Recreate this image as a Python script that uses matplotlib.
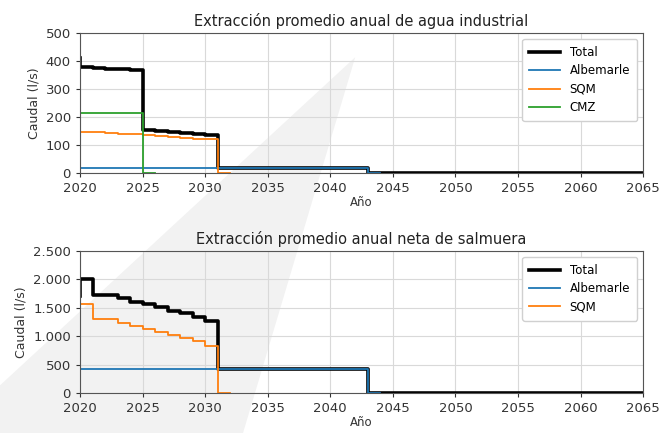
import matplotlib
matplotlib.use("Agg")
import matplotlib.pyplot as plt
from matplotlib.patches import Polygon
from matplotlib.ticker import FuncFormatter

nan = float("nan")

# años del horizonte de evaluación
anios = list(range(2020, 2066))

# --- agua industrial (l/s) ---
agua_albemarle = [17] * 24 + [0] + [nan] * 21                                            # 2020-2043
agua_sqm = [150, 148, 145, 143, 140, 138, 135, 132, 129, 126, 123, 120] + [0] + [nan] * 33  # 2020-2031
agua_cmz = [213] * 6 + [0] + [nan] * 39                                                 # 2020-2025
agua_total = [410, 378, 375, 373, 370, 368, 152, 149, 146, 143, 140, 137] + [17] * 12 + [0] * 22

# --- salmuera neta (l/s) ---
salm_albemarle = [430] * 24 + [0] + [nan] * 21
salm_sqm = [1570, 1570, 1300, 1300, 1240, 1180, 1130, 1080, 1020, 970, 910, 830] + [0] + [nan] * 33
salm_total = [1700, 2000, 1730, 1730, 1670, 1610, 1560, 1510, 1450, 1400, 1340, 1260] + [430] * 12 + [0] * 22

C_ALB = "#1f77b4"
C_SQM = "#ff7f0e"
C_CMZ = "#2ca02c"


def miles(x, pos):
    return f"{int(x):,}".replace(",", ".")


def formato_eje(ax, ymax, ystep, titulo):
    ax.set_facecolor("none")
    ax.set_xlim(2020, 2065)
    ax.set_ylim(0, ymax)
    ax.set_xticks(range(2020, 2066, 5))
    ax.set_yticks(range(0, ymax + 1, ystep))
    ax.yaxis.set_major_formatter(FuncFormatter(miles))
    ax.grid(True, color="#d9d9d9", linewidth=0.8)
    ax.set_axisbelow(True)
    ax.set_title(titulo, fontsize=10.5, color="#222222", pad=5)
    ax.set_xlabel("Año", fontsize=8.5, color="#333333", labelpad=1)
    ax.set_ylabel("Caudal (l/s)", fontsize=9, color="#333333")
    ax.tick_params(labelsize=9.5, colors="#333333", length=3)
    for s in ax.spines.values():
        s.set_color("#555555")
        s.set_zorder(3)
    ax.legend(loc="upper right", fontsize=8.5, framealpha=1, edgecolor="#d0d0d0",
              borderpad=0.6, labelspacing=0.45, handlelength=2.6)


fig = plt.figure(figsize=(6.64, 4.33), dpi=100)

# marca de agua gris de fondo
fig.patches.append(Polygon([(0.535, 0.868), (0.0, 0.11), (0.0, 0.0), (0.366, 0.0)],
                           closed=True, transform=fig.transFigure,
                           facecolor="#f2f2f2", edgecolor="none", zorder=-1))

ax1 = fig.add_axes([0.1205, 0.6005, 0.848, 0.323])
ax1.plot(anios, agua_total, drawstyle="steps", color="black", lw=2.6, label="Total")
ax1.plot(anios, agua_albemarle, drawstyle="steps", color=C_ALB, lw=1.3, label="Albemarle")
ax1.plot(anios, agua_sqm, drawstyle="steps", color=C_SQM, lw=1.3, label="SQM")
ax1.plot(anios, agua_cmz, drawstyle="steps", color=C_CMZ, lw=1.3, label="CMZ")
formato_eje(ax1, 500, 100, "Extracción promedio anual de agua industrial")

ax2 = fig.add_axes([0.1205, 0.0924, 0.848, 0.328])
ax2.plot(anios, salm_total, drawstyle="steps", color="black", lw=2.6, label="Total")
ax2.plot(anios, salm_albemarle, drawstyle="steps", color=C_ALB, lw=1.3, label="Albemarle")
ax2.plot(anios, salm_sqm, drawstyle="steps", color=C_SQM, lw=1.3, label="SQM")
formato_eje(ax2, 2500, 500, "Extracción promedio anual neta de salmuera")

fig.savefig("out.png", dpi=100)
